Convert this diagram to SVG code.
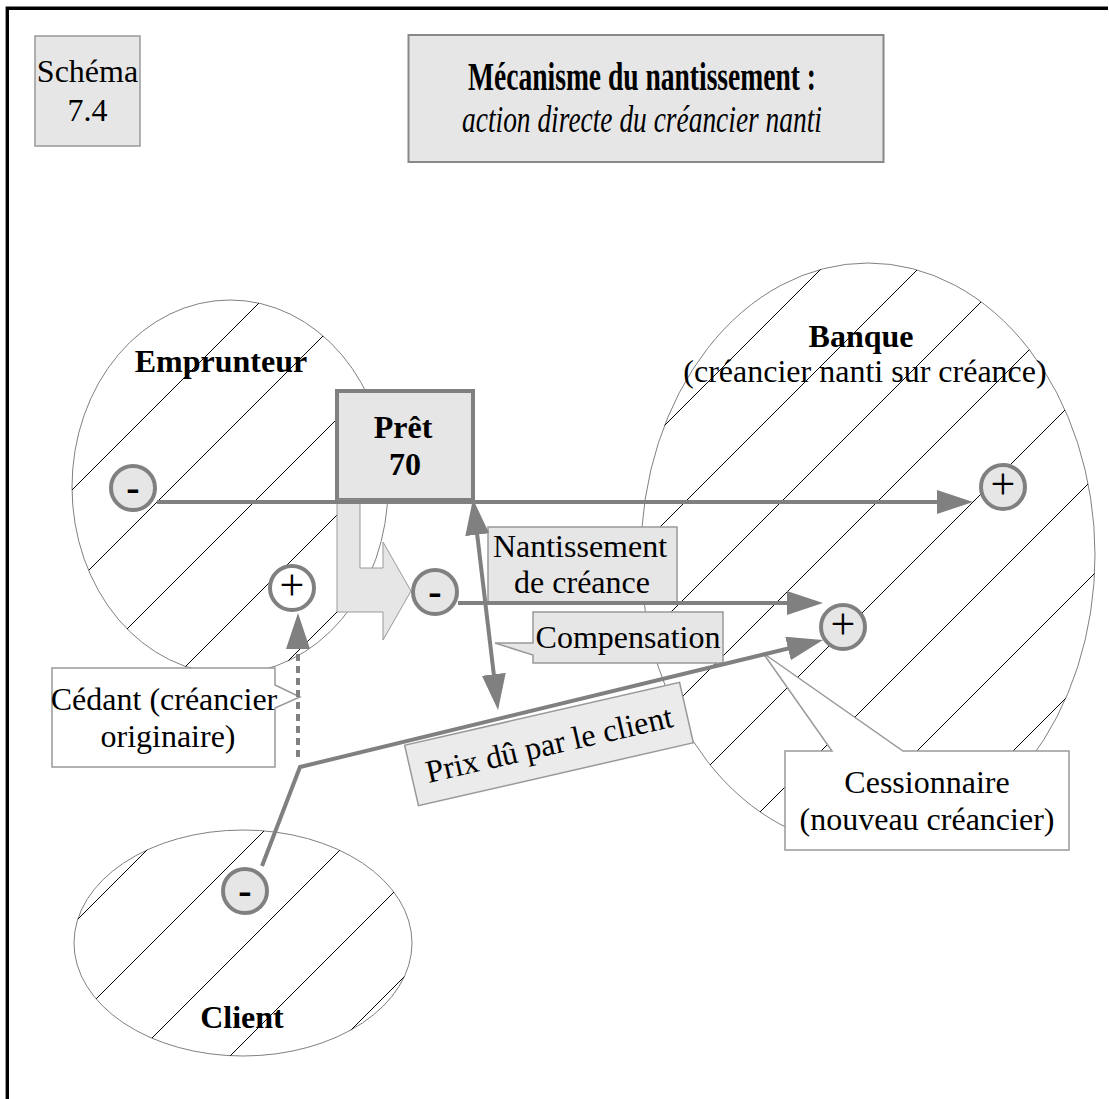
<svg xmlns="http://www.w3.org/2000/svg" width="1109" height="1099" viewBox="0 0 1109 1099">
  <style>
    text { font-family: "Liberation Serif", "Times New Roman", serif; fill: #000; }
    .t { font-size: 32px; }
    .b { font-weight: bold; }
    .mid { text-anchor: middle; }
    .zone { fill: #fff; stroke: #808080; stroke-width: 1; }
    .hatch line { stroke: #000; stroke-width: 1; }
    .box { fill: #e6e6e6; stroke: #999; stroke-width: 1.5; }
    .note { fill: #fff; stroke: #999; stroke-width: 1.5; }
    .pole { stroke: #808080; stroke-width: 4; }
    .pole.neg { fill: #e6e6e6; }
    .pole.pos { fill: #e6e6e6; }
    .pole.open { fill: #fff; }
    .minus { font-size: 40px; font-weight: bold; text-anchor: middle; }
    .plus { font-size: 44px; text-anchor: middle; }
    .flow { fill: none; stroke: #808080; stroke-width: 4; }
  </style>
  <defs>
    <marker id="ah" markerUnits="userSpaceOnUse" markerWidth="36" markerHeight="24" viewBox="0 0 36 24" refX="28" refY="12" orient="auto-start-reverse">
      <path d="M0,0 L36,12 L0,24 Z" fill="#808080"/>
    </marker>
    <clipPath id="clip-emp"><ellipse cx="230" cy="487" rx="158" ry="187"/></clipPath>
    <clipPath id="clip-bq"><ellipse cx="868" cy="555" rx="227" ry="292"/></clipPath>
    <clipPath id="clip-cl"><ellipse cx="243" cy="943" rx="169" ry="113"/></clipPath>
  </defs>

  <!-- page frame -->
  <path d="M7.3,1099 V8.3 H1108" fill="none" stroke="#000" stroke-width="3.4"/>

  <!-- figure number -->
  <g id="schema-number">
    <rect class="box" x="35" y="36" width="105" height="110"/>
    <text class="t mid" x="87.5" y="82">Schéma</text>
    <text class="t mid" x="87.5" y="121">7.4</text>
  </g>

  <!-- title -->
  <g id="title">
    <rect x="408.5" y="35" width="475" height="127" fill="#e6e6e6" stroke="#888" stroke-width="2"/>
    <text class="b mid" x="642" y="90" font-size="41" textLength="348" lengthAdjust="spacingAndGlyphs">Mécanisme du nantissement :</text>
    <text class="mid" x="642" y="132" font-size="38" font-style="italic" textLength="360" lengthAdjust="spacingAndGlyphs">action directe du créancier nanti</text>
  </g>

  <!-- borrower -->
  <g id="emprunteur">
    <ellipse class="zone" cx="230" cy="487" rx="158" ry="187"/>
    <g class="hatch" clip-path="url(#clip-emp)">
      <line x1="267" y1="295" x2="-117" y2="679"/>
      <line x1="364" y1="295" x2="-20" y2="679"/>
      <line x1="461" y1="295" x2="77" y2="679"/>
      <line x1="557" y1="295" x2="173" y2="679"/>
      <line x1="654" y1="295" x2="270" y2="679"/>
    </g>
    <text class="t b mid" x="221" y="372">Emprunteur</text>
  </g>

  <!-- bank -->
  <g id="banque">
    <ellipse class="zone" cx="868" cy="555" rx="227" ry="292"/>
    <g class="hatch" clip-path="url(#clip-bq)">
      <line x1="832" y1="258" x2="238" y2="852"/>
      <line x1="929" y1="258" x2="335" y2="852"/>
      <line x1="1025" y1="258" x2="431" y2="852"/>
      <line x1="1121" y1="258" x2="527" y2="852"/>
      <line x1="1217" y1="258" x2="623" y2="852"/>
      <line x1="1314" y1="258" x2="720" y2="852"/>
      <line x1="1410" y1="258" x2="816" y2="852"/>
      <line x1="1506" y1="258" x2="912" y2="852"/>
    </g>
    <text class="t b mid" x="861" y="347">Banque</text>
    <text class="t mid" x="865" y="382">(créancier nanti sur créance)</text>
  </g>

  <!-- customer -->
  <g id="client">
    <ellipse class="zone" cx="243" cy="943" rx="169" ry="113"/>
    <g class="hatch" clip-path="url(#clip-cl)">
      <line x1="172" y1="825" x2="-64" y2="1061"/>
      <line x1="270" y1="825" x2="34" y2="1061"/>
      <line x1="365" y1="825" x2="129" y2="1061"/>
      <line x1="461" y1="825" x2="225" y2="1061"/>
      <line x1="556" y1="825" x2="320" y2="1061"/>
    </g>
    <text class="t b mid" x="242" y="1028">Client</text>
  </g>

  <!-- loan -->
  <g id="pret">
    <rect x="337" y="391" width="136" height="109" fill="#e6e6e6" stroke="#808080" stroke-width="4"/>
    <text class="t b mid" x="403" y="438">Prêt</text>
    <text class="t b mid" x="405" y="475">70</text>
  </g>

  <!-- bent block arrow under the loan -->
  <g id="transfert">
    <path d="M337,500 V612 H383 V640 L411,591 L383,542 V568 H360 V500 Z" fill="#e6e6e6" stroke="#999" stroke-width="1"/>
  </g>

  <!-- labelled boxes -->
  <g id="nantissement">
    <rect class="box" x="488" y="527" width="189" height="76"/>
    <text class="t mid" x="580" y="557">Nantissement</text>
    <text class="t mid" x="582" y="593">de créance</text>
  </g>

  <g id="compensation">
    <path class="box" d="M533,612 H723 V663 H533 V655 L495,643 H533 Z"/>
    <text class="t mid" x="628" y="648">Compensation</text>
  </g>

  <g id="prix">
    <g transform="rotate(-12.9 549 744)">
      <rect x="408" y="713" width="282" height="62" fill="#ebebeb" stroke="#999" stroke-width="1.5"/>
      <text class="t mid" x="549" y="755">Prix dû par le client</text>
    </g>
  </g>

  <g id="cedant">
    <path class="note" d="M52,668 H275 V685 L300,697 L275,708 V767 H52 Z"/>
    <text class="t mid" x="164" y="710">Cédant (créancier</text>
    <text class="t mid" x="168" y="747">originaire)</text>
  </g>

  <g id="cessionnaire">
    <path class="note" d="M785,751 H832 L763,653 L903,751 H1069 V850 H785 Z"/>
    <text class="t mid" x="927" y="793">Cessionnaire</text>
    <text class="t mid" x="927" y="830">(nouveau créancier)</text>
  </g>

  <!-- connectors -->
  <g id="connectors">
    <path class="flow" d="M157,502 H965" marker-end="url(#ah)"/>
    <path class="flow" d="M458,603 H815" stroke-width="3.5" marker-end="url(#ah)"/>
    <path class="flow" d="M262,866 L300,767 L815.2,641.9" marker-end="url(#ah)"/>
    <path class="flow" d="M473.9,506.9 L497.1,702.1" marker-start="url(#ah)" marker-end="url(#ah)"/>
    <path class="flow" d="M298,757 V621" stroke-width="3.5" stroke-dasharray="7 5" marker-end="url(#ah)"/>
  </g>

  <!-- debit / credit poles -->
  <g id="pole-emprunteur-moins">
    <circle class="pole neg" cx="133" cy="488" r="22"/>
    <text class="minus" x="133" y="501">-</text>
  </g>
  <g id="pole-emprunteur-plus">
    <circle class="pole open" cx="292" cy="588" r="22"/>
    <text class="plus" x="292" y="600">+</text>
  </g>
  <g id="pole-creance-moins">
    <circle class="pole neg" cx="435" cy="592" r="22"/>
    <text class="minus" x="435" y="605">-</text>
  </g>
  <g id="pole-banque-plus-1">
    <circle class="pole pos" cx="1003" cy="487" r="22"/>
    <text class="plus" x="1003" y="499">+</text>
  </g>
  <g id="pole-banque-plus-2">
    <circle class="pole pos" cx="843" cy="627" r="22"/>
    <text class="plus" x="843" y="639">+</text>
  </g>
  <g id="pole-client-moins">
    <circle class="pole neg" cx="245" cy="891" r="22"/>
    <text class="minus" x="245" y="904">-</text>
  </g>
</svg>
